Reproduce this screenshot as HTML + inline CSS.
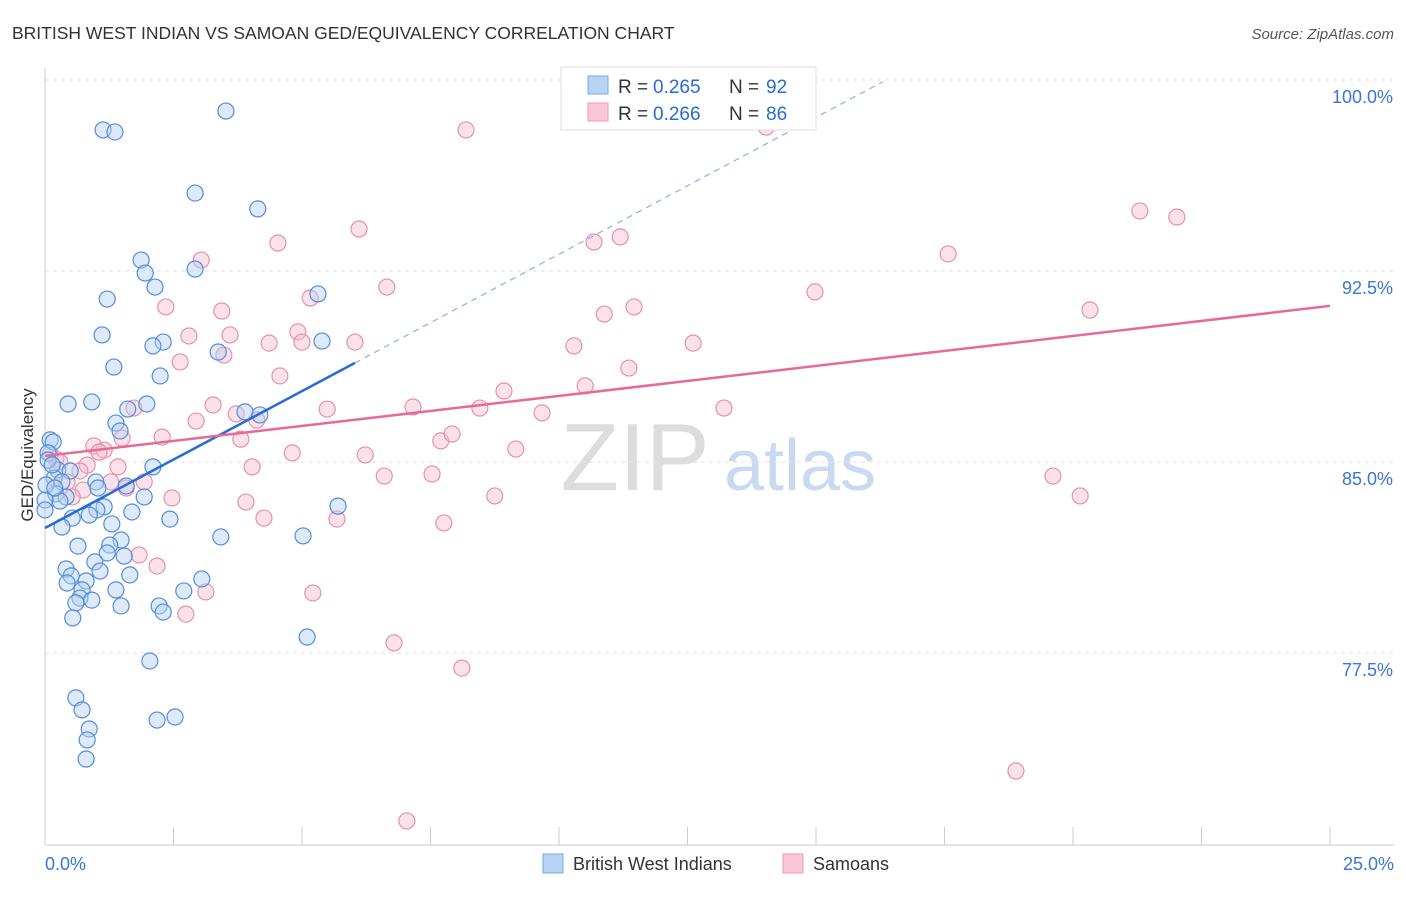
<!DOCTYPE html>
<html><head><meta charset="utf-8"><style>
body{margin:0;background:#fff;font-family:"Liberation Sans",sans-serif;}
svg text{font-family:"Liberation Sans",sans-serif;}
</style></head><body>
<svg id="c" width="1406" height="892" xmlns="http://www.w3.org/2000/svg">
<text x="12" y="39" font-size="17.5" fill="#333">BRITISH WEST INDIAN VS SAMOAN GED/EQUIVALENCY CORRELATION CHART</text>
<text x="1394" y="39" font-size="15" fill="#555" font-style="italic" text-anchor="end">Source: ZipAtlas.com</text>
<g>
<text x="635" y="490" font-size="96" fill="#ddd" font-family="Liberation Serif" text-anchor="middle">ZIP</text>
<text x="800" y="490" font-size="72" fill="#c9daf0" text-anchor="middle">atlas</text>
</g>
<g id="grid"></g><g id="axes"></g><g id="pts"></g><g id="trend"></g>
<text x="33" y="455" font-size="17" fill="#333" transform="rotate(-90 33 455)" text-anchor="middle">GED/Equivalency</text>
<g>
<rect x="561" y="67" width="255" height="63" fill="#fff" stroke="#ddd"/>
<rect x="588" y="76" width="20" height="18" fill="#b8d4f5" stroke="#7aa8e6"/>
<text x="618" y="93" font-size="19" fill="#333">R =</text>
<text x="653" y="93" font-size="19" fill="#2a6ad6">0.265</text>
<text x="729" y="93" font-size="19" fill="#333">N =</text>
<text x="766" y="93" font-size="19" fill="#2a6ad6">92</text>
<rect x="588" y="103" width="20" height="18" fill="#f8c6d6" stroke="#ee9ab6"/>
<text x="618" y="120" font-size="19" fill="#333">R =</text>
<text x="653" y="120" font-size="19" fill="#2a6ad6">0.266</text>
<text x="729" y="120" font-size="19" fill="#333">N =</text>
<text x="766" y="120" font-size="19" fill="#2a6ad6">86</text>
</g>
<g>
<rect x="543" y="854" width="20" height="19" fill="#b8d4f5" stroke="#7aa8e6"/>
<text x="573" y="870" font-size="18" fill="#333">British West Indians</text>
<rect x="783" y="854" width="20" height="19" fill="#f8c6d6" stroke="#ee9ab6"/>
<text x="813" y="870" font-size="18" fill="#333">Samoans</text>
</g>
</svg>
<script>
const blueX=[1.13,1.36,3.52,2.92,4.14,1.87,1.95,2.14,2.92,5.31,1.21,1.11,2.30,2.10,5.39,3.37,1.34,2.24,0.45,0.91,1.61,1.98,1.38,1.46,3.89,4.18,0.10,0.16,0.06,2.10,0.25,0.49,0.18,0.33,0.99,1.03,1.58,1.93,0.21,0.41,0.29,1.15,1.01,1.69,0.86,0.53,0.33,1.30,2.43,5.70,0.64,1.48,1.26,1.21,1.54,0.97,0.41,0.51,1.07,1.65,0.80,0.43,3.05,2.70,0.72,1.38,0.68,0.91,0.60,1.48,2.22,2.30,0.54,3.42,5.02,5.10,2.04,0.60,0.72,0.86,0.82,0.80,2.18,2.53,0.00,0.06,0.14,0.02,0.19,0.00];
const blueY=[98.04,97.96,98.78,95.56,94.94,92.93,92.42,91.87,92.58,91.60,91.40,89.99,89.71,89.56,89.75,89.32,88.73,88.38,87.28,87.36,87.08,87.28,86.53,86.22,86.97,86.85,85.87,85.79,85.36,84.81,84.69,84.65,84.37,84.22,84.22,83.98,84.06,83.63,83.75,83.63,83.47,83.24,83.12,83.04,82.92,82.80,82.45,82.57,82.76,83.27,81.70,81.94,81.74,81.43,81.31,81.08,80.80,80.53,80.72,80.57,80.33,80.25,80.41,79.94,79.98,79.98,79.66,79.58,79.47,79.35,79.35,79.11,78.88,82.06,82.10,78.13,77.19,75.74,75.27,74.52,74.09,73.34,74.87,74.99,83.51,85.08,84.89,84.10,83.98,83.12];
const pinkX=[8.19,14.03,21.30,22.02,6.11,4.53,11.19,10.68,17.57,3.04,6.65,5.16,14.98,20.33,2.35,3.44,11.46,10.88,4.92,2.80,3.60,4.36,5.00,6.03,10.29,12.61,3.48,2.63,11.36,4.57,8.93,10.51,3.27,1.73,5.49,7.16,8.46,13.21,9.67,4.12,2.94,3.72,2.28,1.50,7.70,7.92,3.81,0.95,1.15,1.05,9.16,4.81,6.23,0.21,0.82,0.68,1.42,4.03,6.60,7.53,19.61,1.93,0.43,1.28,1.58,0.74,0.53,8.75,20.14,2.47,3.91,4.26,5.68,7.76,1.83,2.18,2.74,3.13,5.21,6.79,8.11,18.89,7.04,0.10,0.29];
const pinkY=[98.04,98.15,94.86,94.62,94.15,93.60,93.84,93.64,93.17,92.93,91.87,91.44,91.68,90.97,91.09,90.93,91.09,90.81,90.11,89.95,89.99,89.67,89.71,89.71,89.56,89.67,89.20,88.93,88.69,88.38,87.79,87.99,87.24,87.12,87.08,87.16,87.12,87.12,86.93,86.65,86.61,86.89,85.98,85.94,85.83,86.10,85.90,85.63,85.47,85.39,85.51,85.36,85.28,85.12,84.88,84.65,84.81,84.81,84.45,84.53,84.45,84.22,84.22,84.22,83.98,83.90,83.63,83.67,83.67,83.59,83.43,82.80,82.76,82.61,81.35,80.92,79.03,79.90,79.86,77.90,76.91,72.87,70.91,85.32,85.00];
const yTicks=[100,92.5,85,77.5];
const yTickLabels=["100.0%","92.5%","85.0%","77.5%"];
const xTickLabels=["0.0%","25.0%"];
const blueTrend=[82.41,1.075];
const pinkTrend=[85.24,0.2356];
const blueSolidEnd=6.03, blueDashEnd=16.3;

const NS="http://www.w3.org/2000/svg";
const X0=45,X1=1330,Y100=80,PPU=25.47;
const xs=v=>X0+(v/25)*(X1-X0);
const ys=v=>Y100+(100-v)*PPU;
function mk(tag,attrs,parent){const e=document.createElementNS(NS,tag);for(const k in attrs)e.setAttribute(k,attrs[k]);parent.appendChild(e);return e;}
const grid=document.getElementById('grid'),axes=document.getElementById('axes'),pts=document.getElementById('pts'),trend=document.getElementById('trend');
yTicks.forEach((t,i)=>{
  const l=mk('line',{x1:X0,x2:1394,y1:ys(t),y2:ys(t),stroke:'#e2e2e2','stroke-dasharray':'4 4'},grid);
  
  
  const tx=mk('text',{x:1393,y:ys(t)+23,'font-size':18,fill:'#3a75d8','text-anchor':'end'},axes);
  tx.textContent=yTickLabels[i];
  
  
});
const ax=mk('line',{x1:X0,x2:1394,y1:845,y2:845,stroke:'#ccc'},axes);


const ay=mk('line',{x1:X0,x2:X0,y1:68,y2:845,stroke:'#ccc'},axes);


for(let i=0;i<=10;i++){
  const t=mk('line',{x1:xs(i*2.5),x2:xs(i*2.5),y1:827,y2:845,stroke:'#ccc'},axes);
  
  
}
[[0,'start',45],[25,'end',1394]].forEach((d,i)=>{
  const t=mk('text',{x:d[2],y:870,'font-size':18,fill:'#3a75d8','text-anchor':d[1]},axes);
  t.textContent=xTickLabels[i];
  
  
});
function drawPts(X,Y,fill,stroke,name){
  X.forEach((x,i)=>{
    const c=mk('circle',{cx:xs(x),cy:ys(Y[i]),r:8,fill:fill,'fill-opacity':0.45,stroke:stroke,'stroke-width':1.2},pts);
    
    
  });
}
drawPts(pinkX,pinkY,'#f7bfd1','#e98fae','samoan-point');
drawPts(blueX,blueY,'#b5d0f2','#4f8de0','british-west-indian-point');
const f=(t,x)=>t[0]+t[1]*x;
const bl=mk('line',{x1:xs(0),y1:ys(f(blueTrend,0)),x2:xs(blueSolidEnd),y2:ys(f(blueTrend,blueSolidEnd)),stroke:'#2a6ad6','stroke-width':2.5},trend);


const bd=mk('line',{x1:xs(blueSolidEnd),y1:ys(f(blueTrend,blueSolidEnd)),x2:xs(blueDashEnd),y2:ys(f(blueTrend,blueDashEnd)),stroke:'#8ab0e6','stroke-width':1.2,'stroke-dasharray':'6 5'},trend);


const pl=mk('line',{x1:xs(0),y1:ys(f(pinkTrend,0)),x2:xs(25),y2:ys(f(pinkTrend,25)),stroke:'#e8689a','stroke-width':2.5},trend);


</script>
</body></html>
